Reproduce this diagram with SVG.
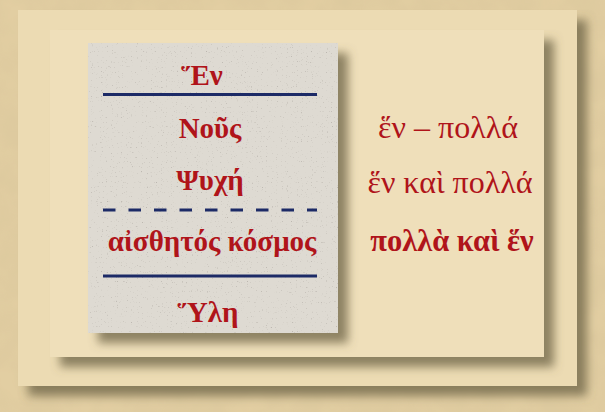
<svg xmlns="http://www.w3.org/2000/svg" width="605" height="412" viewBox="0 0 605 412">
<defs>
<filter id="shadow" x="-10%" y="-10%" width="130%" height="130%">
<feGaussianBlur in="SourceAlpha" stdDeviation="5"/>
<feOffset dx="10" dy="10" result="b"/>
<feFlood flood-color="#6e6446" flood-opacity="0.75"/>
<feComposite in2="b" operator="in"/>
<feMerge><feMergeNode/><feMergeNode in="SourceGraphic"/></feMerge>
</filter>
<filter id="tex" x="0" y="0" width="100%" height="100%">
<feTurbulence type="fractalNoise" baseFrequency="0.03" numOctaves="3" seed="4"/>
<feColorMatrix type="matrix" values="0 0 0 0 0.6  0 0 0 0 0.5  0 0 0 0 0.3  0 0 0 0.4 -0.1"/>
<feComposite in2="SourceGraphic" operator="in" result="n"/>
<feMerge><feMergeNode in="SourceGraphic"/><feMergeNode in="n"/></feMerge>
</filter>
<filter id="speck" x="0" y="0" width="100%" height="100%">
<feTurbulence type="fractalNoise" baseFrequency="0.8" numOctaves="1" seed="2"/>
<feColorMatrix type="matrix" values="0 0 0 0 0.5  0 0 0 0 0.47  0 0 0 0 0.43  0 0 0 -6 2.1"/>
<feComposite in2="SourceGraphic" operator="in" result="n"/>
<feMerge><feMergeNode in="SourceGraphic"/><feMergeNode in="n"/></feMerge>
</filter>
<style>
.t{font-family:"Liberation Serif","DejaVu Serif",serif;fill:#b0141a;text-anchor:middle}
.b{font-weight:bold}
.l{font-size:29px;font-weight:bold}
.sep{stroke:#1c2a66;stroke-width:3;fill:none}
</style>
</defs>
<rect x="0" y="0" width="605" height="412" fill="#e2cea2" filter="url(#tex)"/>
<g id="outer-panel">
<rect x="18" y="10" width="559" height="376" fill="#ecdbb3" filter="url(#shadow)"/>
</g>
<g id="inner-panel">
<rect x="50" y="30" width="494" height="327" fill="#efdfba" filter="url(#shadow)"/>
</g>
<g id="card">
<g filter="url(#shadow)"><rect x="88" y="43" width="250" height="290" fill="#dedad2" filter="url(#speck)"/></g>
</g>
<g id="connectors">
<line class="sep" x1="103" y1="94.500" x2="317" y2="94.500"/>
<line class="sep" x1="103" y1="210" x2="317" y2="210" stroke-dasharray="12.5 13"/>
<line class="sep" x1="103" y1="276" x2="317" y2="276"/>
</g>
<g id="hen"><text class="t l" x="202" y="85">Ἕν</text></g>
<g id="nous"><text class="t l" x="210" y="138">Νοῦς</text></g>
<g id="psyche"><text class="t l" x="210" y="190">Ψυχή</text></g>
<g id="kosmos"><text class="t l" x="212" y="251">αἰσθητός κόσμος</text></g>
<g id="hyle"><text class="t l" x="208" y="322">Ὕλη</text></g>
<g id="r1"><text class="t" x="448" y="138" font-size="32">ἕν – πολλά</text></g>
<g id="r2"><text class="t" x="450" y="193" font-size="32">ἕν καὶ πολλά</text></g>
<g id="r3"><text class="t b" x="452" y="251" font-size="30.5">πολλὰ καὶ ἕν</text></g>
</svg>
